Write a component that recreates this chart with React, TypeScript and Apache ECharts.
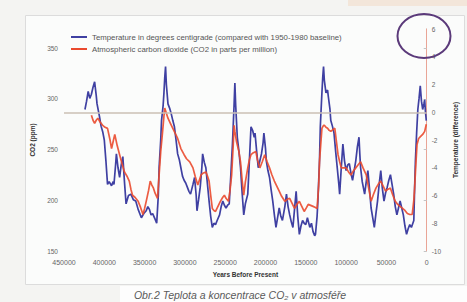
import React, { useEffect, useRef } from "react";
import * as echarts from "echarts";

// x axis: years before present (ticks)
const yearTicks = [0, 50000, 100000, 150000, 200000, 250000, 300000, 350000, 400000, 450000];
// left axis: CO2 (ppm) tick labels
const co2Ticks = [150, 200, 250, 300, 350];
// right axis: temperature difference tick labels
const tempTicks = [-10, -8, -6, -4, -2, 0, 2, 4, 6];

const tempName = "Temperature in degrees centigrade (compared with 1950-1980 baseline)";
const co2Name = "Atmospheric carbon dioxide (CO2 in parts per million)";

// [thousand years before present, temperature difference °C]
const tempKyr: [number, number][] = [
  [424, 0.2], [422, 0.8], [420, 1.5], [418, 1.0], [416, 1.3], [414, 1.8], [412, 2.2], [410, 1.2],
  [409, 0.6], [406, -0.3], [404, -1.0], [402, -1.4], [400, -2.0], [398, -3.5], [396, -5.2], [394, -5.0],
  [391, -5.3], [389, -5.0], [388, -5.2], [386, -3.8], [385, -3.0], [383, -4.0], [381, -4.7], [379, -3.8],
  [377, -3.2], [375, -5.0], [373, -6.6], [370, -6.0], [367, -5.9], [364, -6.3], [361, -6.4], [358, -7.0],
  [354, -7.6], [351, -7.3], [348, -7.1], [346, -6.8], [344, -7.0], [342, -7.4], [340, -7.3], [337, -7.7],
  [335, -8.0], [333, -6.0], [332, -4.0], [330, -2.0], [329, -0.6], [327, 0.5], [326, 1.4], [325, 2.5],
  [324, 3.3], [323, 2.0], [321, 0.6], [319, 0.3], [317, -0.1], [315, -0.6], [313, -1.05], [311, -2.0],
  [309, -3.0], [307, -3.4], [305, -4.0], [303, -4.6], [301, -4.9], [299, -5.1], [297, -5.4], [295, -5.7],
  [293, -5.9], [290, -5.2], [288, -4.7], [286, -6.0], [285, -7.1], [283, -6.3], [281, -5.4], [279, -4.0],
  [278, -3.0], [276, -3.6], [274, -4.0], [272, -5.2], [270, -6.4], [268, -7.5], [266, -8.3], [264, -8.0],
  [262, -8.1], [260, -7.8], [257, -7.4], [255, -6.8], [253, -6.4], [251, -6.7], [249, -6.9], [247, -6.7],
  [245, -6.6], [243, -4.5], [241, -2.3], [239, 0.5], [238, 2.1], [237, 0.5], [235, -1.8], [233, -2.8],
  [231, -4.0], [229, -5.8], [227, -7.4], [225, -6.6], [222, -5.9], [220, -3.5], [218, -1.05], [216, -1.3],
  [214, -1.8], [213, -1.5], [211, -2.8], [209, -4.0], [207, -3.5], [205, -3.0], [203, -2.2], [202, -1.5],
  [200, -2.6], [199, -3.5], [197, -4.2], [195, -4.7], [193, -5.6], [191, -6.4], [189, -7.4], [187, -8.3],
  [185, -7.6], [183, -6.9], [181, -7.5], [179, -7.8], [176, -6.8], [174, -5.9], [172, -6.8], [170, -7.4],
  [168, -7.9], [166, -8.3], [164, -7.0], [162, -5.7], [160, -7.5], [158, -8.8], [156, -8.2], [154, -7.8],
  [152, -8.0], [150, -8.1], [148, -7.6], [145, -8.3], [143, -8.0], [141, -8.6], [139, -8.9], [138, -8.8],
  [136, -7.5], [135, -6.4], [133, -3.5], [132, -1.05], [131, 0.2], [130, 1.4], [129, 2.5], [128, 3.3],
  [127, 2.3], [125, 1.4], [123, 1.6], [122, 1.1], [120, 0.2], [119, -0.6], [117, -1.0], [115, -1.5],
  [113, -2.8], [111, -4.0], [109, -5.2], [108, -5.9], [106, -4.0], [104, -2.3], [102, -3.5], [100, -4.2],
  [98, -3.8], [96, -3.7], [94, -4.4], [92, -4.9], [90, -4.2], [88, -3.5], [86, -2.5], [84, -1.8],
  [83, -3.0], [82, -4.0], [80, -5.0], [77, -5.9], [75, -5.0], [73, -4.2], [71, -5.5], [69, -6.9],
  [67, -7.6], [65, -8.3], [63, -7.3], [61, -6.4], [59, -5.2], [57, -4.2], [55, -5.5], [53, -6.4],
  [51, -5.8], [49, -5.4], [47, -4.9], [45, -4.5], [43, -5.2], [41, -5.9], [39, -6.8], [37, -7.4],
  [35, -6.9], [33, -6.4], [31, -6.9], [29, -7.4], [27, -8.2], [25, -8.8], [23, -8.4], [21, -8.1],
  [19, -8.3], [16, -7.8], [15, -5.5], [14, -3.5], [12.5, -1.5], [11, 0.2], [9.5, 1.0], [8, 1.9],
  [6.5, 0.8], [5, 0.2], [3.5, 0.6], [2.5, 0.9], [1.5, 0.0], [0.5, -0.6],
];

// [thousand years before present, CO2 ppm]
const co2Kyr: [number, number][] = [
  [416, 284], [414, 279], [412, 276], [410, 279], [408, 281], [405, 277], [402, 274], [399, 272],
  [396, 271], [393, 260], [391, 251], [389, 258], [387, 265], [384, 254], [381, 245], [378, 236],
  [375, 228], [372, 224], [369, 219], [367, 211], [365, 205], [362, 203], [358, 199], [355, 193],
  [352, 186], [350, 192], [348, 199], [345, 210], [343, 219], [341, 215], [339, 212], [337, 207],
  [334, 202], [332, 225], [330, 248], [328, 265], [327, 274], [326, 283], [325, 291], [323, 286],
  [321, 281], [318, 276], [315, 271], [312, 266], [309, 261], [307, 256], [305, 251], [303, 248],
  [301, 245], [298, 241], [294, 238], [292, 235], [290, 232], [287, 223], [284, 215], [282, 220],
  [280, 225], [277, 227], [274, 228], [272, 224], [270, 219], [268, 205], [266, 192], [264, 190],
  [262, 189], [259, 194], [256, 199], [253, 203], [251, 205], [249, 202], [246, 199], [244, 210],
  [242, 225], [240, 255], [239, 274], [238, 268], [236, 258], [233, 248], [231, 238], [229, 220],
  [227, 205], [225, 218], [222, 232], [220, 240], [218, 245], [215, 247], [212, 248], [210, 240],
  [207, 232], [204, 238], [201, 245], [198, 238], [195, 232], [192, 225], [189, 219], [186, 214],
  [183, 209], [180, 204], [176, 199], [173, 201], [170, 202], [167, 197], [164, 192], [161, 196],
  [158, 199], [155, 194], [152, 189], [149, 193], [147, 196], [144, 195], [141, 194], [138, 193],
  [136, 192], [134, 215], [133, 238], [131, 260], [130, 271], [128, 274], [127, 274], [125, 272],
  [123, 271], [121, 269], [119, 268], [116, 270], [114, 271], [112, 258], [110, 245], [108, 238],
  [106, 232], [103, 232], [100, 232], [97, 228], [94, 225], [91, 229], [88, 232], [85, 235],
  [82, 238], [79, 232], [75, 225], [72, 212], [69, 199], [66, 206], [63, 212], [60, 216],
  [57, 219], [54, 214], [51, 209], [48, 211], [45, 212], [42, 205], [39, 199], [36, 196],
  [33, 194], [30, 192], [27, 190], [24, 187], [21, 186], [18, 186], [16, 200], [15, 212],
  [13.5, 235], [12, 255], [10, 261], [7.5, 263], [5, 265], [2.5, 268], [0.5, 275],
];

const BLUE = "#3f40a2";
const RED = "#ea4a2e";
const FONT = "'Liberation Sans', Arial, sans-serif";

export default function App() {
  const ref = useRef<HTMLDivElement>(null);

  useEffect(() => {
    if (!ref.current) return;
    const chart = echarts.init(ref.current, null, { renderer: "svg" });
    chart.setOption({
      animation: false,
      backgroundColor: "#f4f4f2",
      textStyle: { fontFamily: FONT },
      grid: { left: 64, right: 39, top: 29, bottom: 51 },
      legend: {
        orient: "vertical",
        left: 66,
        top: 28,
        itemWidth: 16,
        itemHeight: 2,
        itemGap: 4,
        icon: "rect",
        textStyle: { fontSize: 7.8, color: "#555", fontFamily: FONT },
        data: [tempName, co2Name],
      },
      graphic: [
        {
          type: "rect",
          z: -10,
          shape: { x: 0, y: 0, width: 467, height: 302 },
          style: { fill: "#f4f4f2" },
        },
        {
          type: "rect",
          z: -9,
          shape: { x: 25.5, y: 15.5, width: 439, height: 269 },
          style: { fill: "#fbfcfb", stroke: "#dcdcdc", lineWidth: 1 },
        },
        {
          type: "rect",
          z: -8,
          shape: { x: 348, y: 0, width: 119, height: 6 },
          style: { fill: "#f3e6da" },
        },
        {
          type: "rect",
          z: -8,
          shape: { x: 120, y: 286, width: 347, height: 16 },
          style: { fill: "#fdfdfd" },
        },
        {
          type: "text",
          z: 10,
          x: 240,
          y: 295,
          style: {
            text: "Obr.2 Teplota a koncentrace CO₂ v atmosféře",
            fontSize: 10.5,
            fontStyle: "italic",
            fontFamily: FONT,
            fill: "#5a5a5a",
            align: "center",
            verticalAlign: "middle",
          },
        },
        {
          type: "ellipse",
          z: 100,
          shape: { cx: 424, cy: 36, rx: 26.5, ry: 22 },
          style: { fill: "none", stroke: "#5b3a7a", lineWidth: 2 },
        },
      ],
      xAxis: {
        type: "value",
        inverse: true,
        min: 0,
        max: 450000,
        interval: 50000,
        name: "Years Before Present",
        nameLocation: "middle",
        nameGap: 20,
        nameTextStyle: { fontSize: 6.5, fontWeight: "bold", color: "#333", fontFamily: FONT },
        axisLine: { show: false },
        axisTick: { show: false },
        splitLine: { show: false },
        axisLabel: {
          fontSize: 7,
          color: "#666",
          margin: 8,
          customValues: yearTicks,
          formatter: (v: number) => String(v),
        },
      },
      yAxis: [
        {
          type: "value",
          position: "left",
          min: 150,
          max: 369,
          interval: 50,
          name: "CO2 (ppm)",
          nameLocation: "middle",
          nameGap: 20,
          nameRotate: 90,
          nameTextStyle: { fontSize: 6.5, fontWeight: "bold", color: "#333", fontFamily: FONT },
          axisLine: { show: true, lineStyle: { color: "#cfcfcf", width: 1 } },
          axisTick: { show: true, length: 3, lineStyle: { color: "#c4c4c4" }, customValues: co2Ticks },
          axisLabel: { fontSize: 6.5, color: "#666", margin: 6, customValues: co2Ticks },
          splitLine: { show: false },
        },
        {
          type: "value",
          position: "right",
          min: -10,
          max: 6,
          interval: 2,
          name: "Temperature (difference)",
          nameLocation: "middle",
          nameGap: 16,
          nameRotate: 90,
          nameTextStyle: { fontSize: 6.5, fontWeight: "bold", color: "#333", fontFamily: FONT },
          axisLine: { show: true, lineStyle: { color: "#e9a596", width: 1 } },
          axisTick: { show: false },
          axisLabel: { fontSize: 6.5, color: "#666", margin: 5, customValues: tempTicks },
          splitLine: { show: false },
        },
      ],
      series: [
        {
          name: tempName,
          type: "line",
          yAxisIndex: 1,
          showSymbol: false,
          symbol: "none",
          color: BLUE,
          lineStyle: { color: BLUE, width: 1.7 },
          data: tempKyr.map(([k, v]) => [k * 1000, v]),
          z: 3,
          markLine: {
            silent: true,
            symbol: ["none", "none"],
            label: { show: false },
            lineStyle: { color: "#cbc1b4", type: "solid", width: 1.5 },
            data: [{ yAxis: 0 }],
          },
        },
        {
          name: co2Name,
          type: "line",
          yAxisIndex: 0,
          showSymbol: false,
          symbol: "none",
          color: RED,
          lineStyle: { color: RED, width: 1.7, opacity: 0.9 },
          data: co2Kyr.map(([k, v]) => [k * 1000, v]),
          z: 4,
        },
      ],
    });
    return () => chart.dispose();
  }, []);

  return (
    <div
      ref={ref}
      style={{ position: "absolute", left: 0, top: 0, width: 467, height: 302 }}
    />
  );
}
